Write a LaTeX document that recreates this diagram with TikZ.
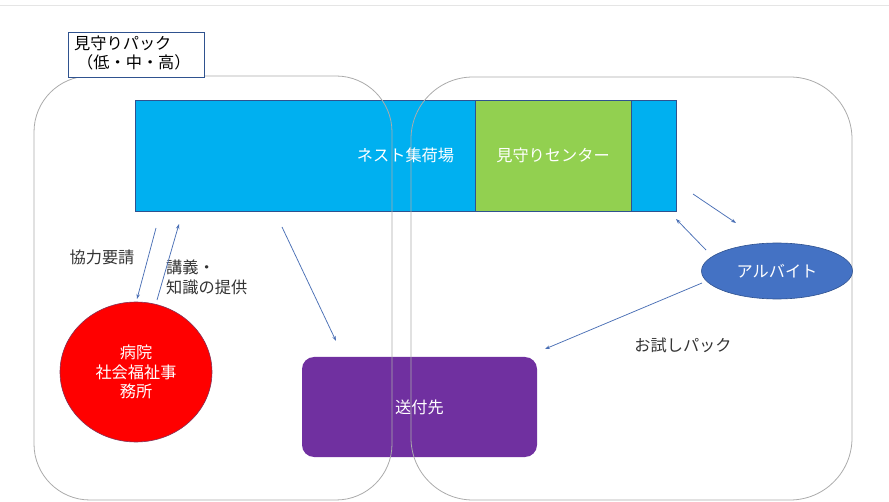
\documentclass[tikz,border=0pt]{standalone}
\usepackage{fontspec}
\setmainfont{Noto Sans CJK JP}
\usetikzlibrary{arrows.meta,shapes.geometric,calc}
\definecolor{nestblue}{HTML}{00B0F0}
\definecolor{centergreen}{HTML}{92D050}
\definecolor{hospred}{HTML}{FF0000}
\definecolor{destpurple}{HTML}{7030A0}
\definecolor{partblue}{HTML}{4472C4}
\definecolor{edgeblue}{HTML}{2F528F}
\definecolor{arrowblue}{HTML}{4A6FB5}
\definecolor{zonegray}{HTML}{ABABAB}
\definecolor{txtgray}{HTML}{333333}
\newcommand\jpsize{\fontsize{16.2pt}{19.5pt}\selectfont}
\tikzset{
  every node/.style={font=\jpsize},
  boxshape/.style={draw=edgeblue, line width=0.8pt, inner sep=0pt, text=white},
  zone/.style={draw=zonegray, line width=0.8pt},
  link/.style={draw=arrowblue, line width=0.75pt, -{Stealth[length=5pt,width=3.5pt]}},
  lbl/.style={text=txtgray, inner sep=0pt}
}
\begin{document}
\begin{tikzpicture}[x=1pt,y=-1pt]
\useasboundingbox (0,0) rectangle (889,502);
\draw[draw=black!10, line width=0.8pt] (0,5) -- (889,5);
% main boxes
\node[boxshape, fill=nestblue, minimum width=541pt, minimum height=111pt] (nest) at (405.5,155.5) {ネスト集荷場};
\node[boxshape, fill=centergreen, minimum width=156pt, minimum height=111pt] (center) at (553,155.5) {見守りセンター};
\node[boxshape, draw=none, fill=destpurple, rounded corners=12pt, minimum width=235pt, minimum height=100pt] (dest) at (419.5,407) {送付先};
% zones
\draw[zone, rounded corners=56pt] (34,76) rectangle (392,500);
\draw[zone, rounded corners=62pt] (411,77) rectangle (852,500);
% other nodes
\node[boxshape, ellipse, fill=hospred, draw=edgeblue!60!red, line width=0.6pt, minimum width=152pt, minimum height=140pt, align=center] (hosp) at (136,372) {病院\\社会福祉事\\務所};
\node[boxshape, ellipse, fill=partblue, draw=edgeblue, line width=0.6pt, minimum width=151pt, minimum height=56pt] (part) at (777,271) {アルバイト};
\node[draw=edgeblue, line width=0.8pt, fill=white, minimum width=136pt, minimum height=45pt, inner sep=0pt] (pack) at (136,54.5) {};
\node[lbl, anchor=west, align=left, text=black] (packtxt) at (74,53) {見守りパック\\\hspace*{3pt}（低・中・高）};
% labels
\node[lbl] (reqlbl) at (102,257) {協力要請};
\node[lbl, anchor=west, align=left] (lectlbl) at (166,277.5) {講義・\\知識の提供};
\node[lbl] (triallbl) at (683,345) {お試しパック};
% connector ends
\coordinate (a1s) at (156,228);
\coordinate (a1e) at (137,299);
\coordinate (a2s) at (157,300);
\coordinate (a2e) at (179,224);
\coordinate (a3s) at (282,227);
\coordinate (a3e) at (336,341);
\coordinate (a4s) at (693,194);
\coordinate (a4e) at (736,223);
\coordinate (a5s) at (706,250);
\coordinate (a5e) at (676,219);
\coordinate (a6s) at (702,283);
\coordinate (a6e) at (545,349);
\draw[link] (a1s) -- (a1e);
\draw[link] (a2s) -- (a2e);
\draw[link] (a3s) -- (a3e);
\draw[link] (a4s) -- (a4e);
\draw[link] (a5s) -- (a5e);
\draw[link] (a6s) -- (a6e);
\end{tikzpicture}
\end{document}
